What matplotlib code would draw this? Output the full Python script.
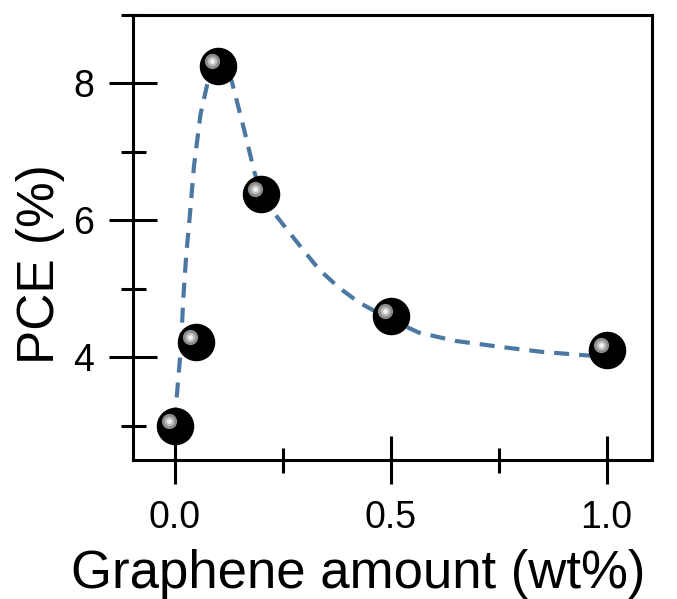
import matplotlib
matplotlib.use("Agg")
import matplotlib.pyplot as plt
from matplotlib.ticker import MultipleLocator
from matplotlib.transforms import offset_copy

# measured PCE values
graphene = [0.0, 0.05, 0.1, 0.2, 0.5, 1.0]
pce = [3.0, 4.22, 8.25, 6.38, 4.6, 4.1]

# guide-to-the-eye curve, points
guide_x = [0.0, 0.006, 0.012, 0.016, 0.02, 0.027, 0.035, 0.045, 0.06, 0.076,
           0.09, 0.1, 0.115, 0.132, 0.16, 0.185, 0.2, 0.225, 0.266, 0.3,
           0.335, 0.38, 0.427, 0.5, 0.566, 0.65, 0.757, 0.85, 0.95, 0.98]
guide_y = [3.05, 3.5, 3.95, 4.3, 4.85, 5.5, 6.05, 6.8, 7.55, 8.0,
           8.2, 8.25, 8.2, 8.04, 7.35, 6.7, 6.4, 6.15, 5.82, 5.55,
           5.28, 5.02, 4.80, 4.55, 4.36, 4.24, 4.15, 4.08, 4.03, 4.02]

plt.rcParams['font.family'] = ['Liberation Sans', 'DejaVu Sans']

fig = plt.figure(figsize=(6.77, 5.99), dpi=100)
ax = fig.add_axes([0.196, 0.232, 0.767, 0.743])

ax.plot(guide_x, guide_y, color='#4a78a2', lw=3, dashes=(3.6, 2.4), zorder=2)

# black spheres with a small highlight
ax.plot(graphene, pce, 'o', ms=26, color='black', mec='black', zorder=3)
hl = offset_copy(ax.transData, fig=fig, x=-6, y=5, units='dots')
ax.plot(graphene, pce, 'o', ms=11, color='#8c8c8c', mec='none',
        transform=hl, zorder=4)
ax.plot(graphene, pce, 'o', ms=7, color='#bdbdbd', mec='none',
        transform=hl, zorder=5)
ax.plot(graphene, pce, 'o', ms=3.5, color='#f0f0f0', mec='none',
        transform=hl, zorder=6)

ax.set_xlim(-0.097, 1.105)
ax.set_ylim(2.5, 9.0)
ax.xaxis.set_minor_locator(MultipleLocator(0.25))
ax.yaxis.set_minor_locator(MultipleLocator(1))
ax.set_xticks([0.0, 0.5, 1.0])
ax.set_xticklabels(['0.0', '0.5', '1.0'])
ax.set_yticks([4, 6, 8])
ax.set_yticklabels(['4', '6', '8'])

for s in ax.spines.values():
    s.set_linewidth(2.2)
ax.tick_params(which='major', direction='inout', length=34, width=2.2,
               labelsize=27)
ax.tick_params(which='minor', direction='inout', length=18, width=2.2)
ax.tick_params(axis='x', which='major', pad=12)
ax.tick_params(axis='y', which='major', pad=11)

ax.set_xlabel('Graphene amount (wt%)', fontsize=38, labelpad=9)
ax.set_ylabel('PCE (%)', fontsize=37, labelpad=6)
ax.xaxis.label.set_x(0.435)
ax.yaxis.label.set_y(0.44)

fig.savefig('out.png', dpi=100)
